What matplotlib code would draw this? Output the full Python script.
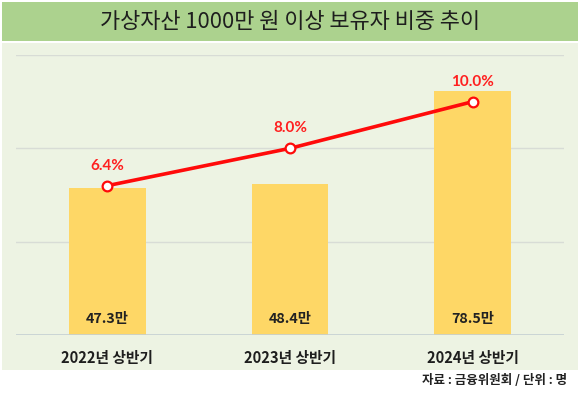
import matplotlib.pyplot as plt
from matplotlib.patches import Rectangle

plt.rcParams['font.family'] = ['Noto Sans CJK KR', 'DejaVu Sans']

# 데이터
periods = ['2022년 상반기', '2023년 상반기', '2024년 상반기']
holders = [47.3, 48.4, 78.5]      # 만 명
share = [6.4, 8.0, 10.0]          # %
holder_labels = ['47.3만', '48.4만', '78.5만']
share_labels = ['6.4%', '8.0%', '10.0%']

fig = plt.figure(figsize=(5.8, 3.97), dpi=100)
W, H = 580, 397

def px(x0, y0, x1, y1):
    # 픽셀 좌표 (위에서부터) -> figure 좌표
    return (x0 / W, 1 - y1 / H, (x1 - x0) / W, (y1 - y0) / H)

# 배경 박스
x, y, w, h = px(2, 2, 578, 41)
fig.patches.append(Rectangle((x, y), w, h, transform=fig.transFigure,
                             facecolor='#acd28e', edgecolor='none', zorder=-2))
x, y, w, h = px(2, 43, 578, 370)
fig.patches.append(Rectangle((x, y), w, h, transform=fig.transFigure,
                             facecolor='#edf3e3', edgecolor='none', zorder=-2))

fig.text(0.5, 1 - 22 / H, '가상자산 1000만 원 이상 보유자 비중 추이',
         ha='center', va='center', fontsize=15.8, color='#1e1e1e', weight='medium')

ax = fig.add_axes(px(16, 55, 564, 335))
ax.set_facecolor('none')
xs = range(len(periods))
ax.bar(xs, holders, width=0.42, color='#fed766', zorder=2)
ax.set_xlim(-0.5, 2.5)
ax.set_ylim(0, 90)
ax.set_yticks([30, 60, 90])
ax.grid(axis='y', color='#d8dcd6', linewidth=1, zorder=1)
ax.axhline(0, color='#c5cfd3', linewidth=1.2, zorder=3)
for s in ax.spines.values():
    s.set_visible(False)
ax.set_xticks(list(xs))
ax.set_xticklabels(periods, fontsize=10.6, color='#1e1e1e', weight='bold')

for i, lab in enumerate(holder_labels):
    ax.annotate(lab, (i, 0), xytext=(0, 16), textcoords='offset pixels',
                ha='center', va='center', fontsize=10.3, weight='bold',
                color='#222222', zorder=4)

ax2 = ax.twinx()
ax2.set_ylim(0, 12)
ax2.axis('off')
ax.tick_params(left=False, right=False, bottom=False, labelleft=False)
ax.tick_params(axis='x', pad=7)
ax2.plot(xs, share, color='#ff0a0a', linewidth=2.6, marker='o', markersize=7,
         markerfacecolor='white', markeredgecolor='#ff0a0a', markeredgewidth=1.6,
         zorder=5)
for i, lab in enumerate(share_labels):
    ax2.annotate(lab, (i, share[i]), xytext=(0, 20), textcoords='offset pixels',
                 ha='center', va='center', fontsize=11, weight='bold',
                 color='#ff2020', family=['Lato', 'DejaVu Sans'])

fig.text(567 / W, 1 - 381 / H, '자료 : 금융위원회 / 단위 : 명', ha='right', va='center',
         fontsize=9, weight='bold', color='#222222')

fig.savefig('out.png', dpi=100)
